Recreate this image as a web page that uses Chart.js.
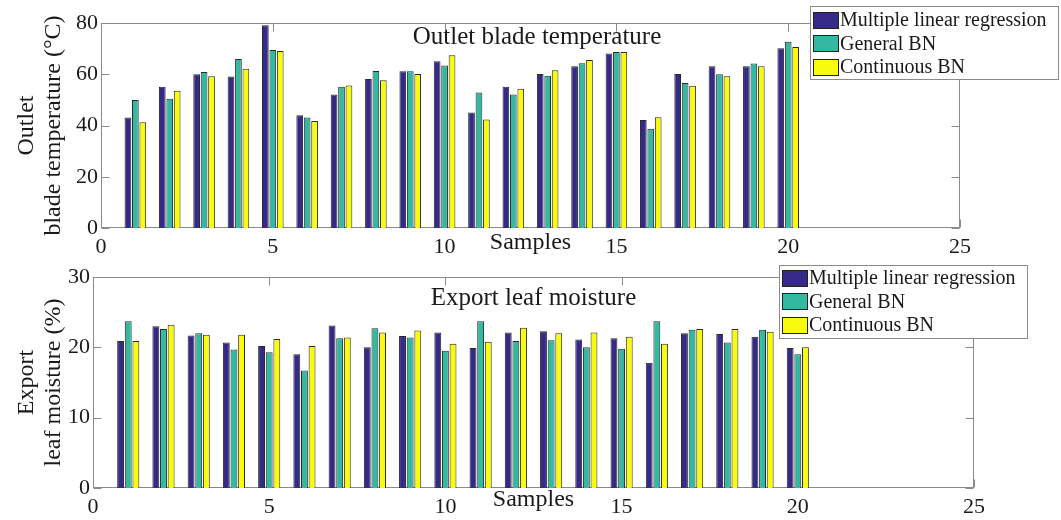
<!DOCTYPE html>
<html><head><meta charset="utf-8">
<script src="https://cdn.jsdelivr.net/npm/chart.js@4.4.0/dist/chart.umd.min.js"></script>
<style>html,body{margin:0;padding:0;background:#fff;} canvas{display:block;}</style>
</head><body>
<canvas id="c1" width="1061" height="260"></canvas>
<canvas id="c2" width="1061" height="260"></canvas>
<script>
const samples = [1,2,3,4,5,6,7,8,9,10,11,12,13,14,15,16,17,18,19,20];
const seriesNames = ['Multiple linear regression','General BN','Continuous BN'];
const tempMLR = [43.1,55.1,60.0,59.1,79.1,44.0,52.1,58.1,61.2,65.1,45.1,55.1,60.1,63.1,68.1,42.1,60.1,63.1,63.1,70.1];
const tempGBN = [50.0,50.4,60.9,66.0,69.5,43.1,55.1,61.3,61.2,63.4,52.9,52.1,59.4,64.3,68.7,38.7,56.6,60.0,64.2,72.7];
const tempCBN = [41.3,53.6,59.2,62.1,69.1,41.8,55.6,57.7,60.1,67.4,42.3,54.3,61.6,65.6,68.7,43.2,55.5,59.2,63.1,70.6];
const moistMLR = [20.9,23.0,21.7,20.7,20.2,19.0,23.1,20.0,21.6,22.1,19.9,22.1,22.3,21.1,21.3,17.8,22.0,21.9,21.5,19.9];
const moistGBN = [23.7,22.6,22.0,19.7,19.3,16.7,21.3,22.7,21.4,19.5,23.7,20.9,21.0,20.0,19.8,23.7,22.5,20.7,22.5,19.0];
const moistCBN = [20.9,23.2,21.8,21.8,21.2,20.2,21.4,22.1,22.4,20.5,20.8,22.8,22.0,22.1,21.5,20.5,22.6,22.6,22.2,20.0];
const xTicks = [0,5,10,15,20,25];
const tempTicks = [0,20,40,60,80];
const moistTicks = [0,10,20,30];
const colors = ['#352a87','#33b8a1','#f9fb0e'];

const FONT = "'Liberation Serif','Times New Roman',serif";
const INK = '#1a1a1a';
const BOX = '#8a8a8a';

const framePlugin = {
  id: 'frame',
  beforeDatasetsDraw(chart, args, o) {
    const {ctx, chartArea: a, scales: {x, y}} = chart;
    ctx.save();
    ctx.strokeStyle = BOX; ctx.lineWidth = 1;
    const L = Math.round(a.left) + 0.5, R = Math.round(a.right) - 0.5;
    const T = Math.round(a.top) + 0.5, B = Math.round(a.bottom) - 0.5;
    ctx.strokeRect(L, T, R - L, B - T);
    ctx.beginPath();
    x.ticks.forEach(t => {
      const px = Math.round(x.getPixelForValue(t.value)) + 0.5;
      ctx.moveTo(px, T); ctx.lineTo(px, T + 8);
      ctx.moveTo(px, B); ctx.lineTo(px, B - 8);
    });
    y.ticks.forEach(t => {
      const py = Math.round(y.getPixelForValue(t.value)) + 0.5;
      ctx.moveTo(L, py); ctx.lineTo(L + 8, py);
      ctx.moveTo(R, py); ctx.lineTo(R - 8, py);
    });
    ctx.stroke();
    ctx.restore();
  },
  afterDraw(chart, args, o) {
    const {ctx, chartArea: a} = chart;
    ctx.save();
    ctx.font = `25px ${FONT}`;
    ctx.fillStyle = INK; ctx.textAlign = 'center'; ctx.textBaseline = 'middle';
    ctx.fillText(o.title, (a.left + a.right) / 2 + o.titleDx, a.top + o.titleDy);
    const lg = o.legend;
    ctx.fillStyle = '#fff';
    ctx.fillRect(lg.x, lg.y, lg.w, lg.h);
    ctx.strokeStyle = BOX; ctx.lineWidth = 1;
    ctx.strokeRect(lg.x + 0.5, lg.y + 0.5, lg.w, lg.h);
    ctx.font = `20px ${FONT}`;
    ctx.textAlign = 'left';
    chart.data.datasets.forEach((ds, i) => {
      const cy = lg.y + lg.rowTop + i * lg.rowH;
      ctx.fillStyle = ds.backgroundColor;
      ctx.fillRect(lg.x + 3.5, Math.round(cy - 8) + 0.5, 25, 16);
      ctx.strokeStyle = '#222';
      ctx.strokeRect(lg.x + 3.5, Math.round(cy - 8) + 0.5, 25, 16);
      ctx.fillStyle = INK;
      ctx.fillText(ds.label, lg.x + 30, cy + 1);
    });
    ctx.restore();
  }
};

function makeChart(id, vals, yTicks, ymax, cfg) {
  return new Chart(document.getElementById(id), {
    type: 'bar',
    data: {
      datasets: vals.map((v, i) => ({
        label: seriesNames[i],
        data: samples.map((s, k) => ({x: s, y: v[k]})),
        backgroundColor: colors[i],
        borderColor: '#2a2a2a',
        borderWidth: 1,
        categoryPercentage: 0.65,
        barPercentage: 0.9
      }))
    },
    options: {
      responsive: false,
      animation: false,
      devicePixelRatio: 1,
      layout: {padding: {top: cfg.padTop, right: cfg.padRight, left: 0, bottom: 0}},
      plugins: {
        legend: {display: false},
        tooltip: {enabled: false},
        frame: cfg.frame
      },
      scales: {
        x: {
          type: 'linear', min: 0, max: 25, offset: false,
          afterBuildTicks: s => { s.ticks = xTicks.map(v => ({value: v})); },
          afterFit: s => { s.height = 32; },
          grid: {display: false, drawTicks: false},
          border: {display: false},
          ticks: {font: {family: FONT, size: 22}, color: INK, padding: 6, maxRotation: 0, autoSkip: false},
          title: {display: true, text: 'Samples', font: {family: FONT, size: 24, lineHeight: 1.1}, color: INK, padding: {top: 0, bottom: cfg.xTitlePad}}
        },
        y: {
          min: 0, max: ymax,
          afterBuildTicks: s => { s.ticks = yTicks.map(v => ({value: v})); },
          afterFit: s => { s.width = cfg.yWidth; },
          grid: {display: false, drawTicks: false},
          border: {display: false},
          ticks: {font: {family: FONT, size: 22}, color: INK, padding: 3},
          title: {display: true, text: cfg.yTitle, font: {family: FONT, size: 24, lineHeight: 1.1}, color: INK, padding: {top: 14, bottom: 0}}
        }
      }
    },
    plugins: [framePlugin]
  });
}

makeChart('c1', [tempMLR, tempGBN, tempCBN], tempTicks, 80, {
  padTop: 23, padRight: 101, yWidth: 101, xTitlePad: 4,
  yTitle: ['Outlet', 'blade temperature (°C)'],
  frame: {title: 'Outlet blade temperature', titleDx: 6.5, titleDy: 14,
          legend: {x: 810, y: 6, w: 248, h: 73, rowTop: 14, rowH: 23.4}}
});
makeChart('c2', [moistMLR, moistGBN, moistCBN], moistTicks, 30, {
  padTop: 17, padRight: 87, yWidth: 93, xTitlePad: 7,
  yTitle: ['Export', 'leaf moisture (%)'],
  frame: {title: 'Export leaf moisture', titleDx: 0, titleDy: 21,
          legend: {x: 779, y: 5, w: 248, h: 73, rowTop: 13, rowH: 23.4}}
});
</script>
</body></html>
